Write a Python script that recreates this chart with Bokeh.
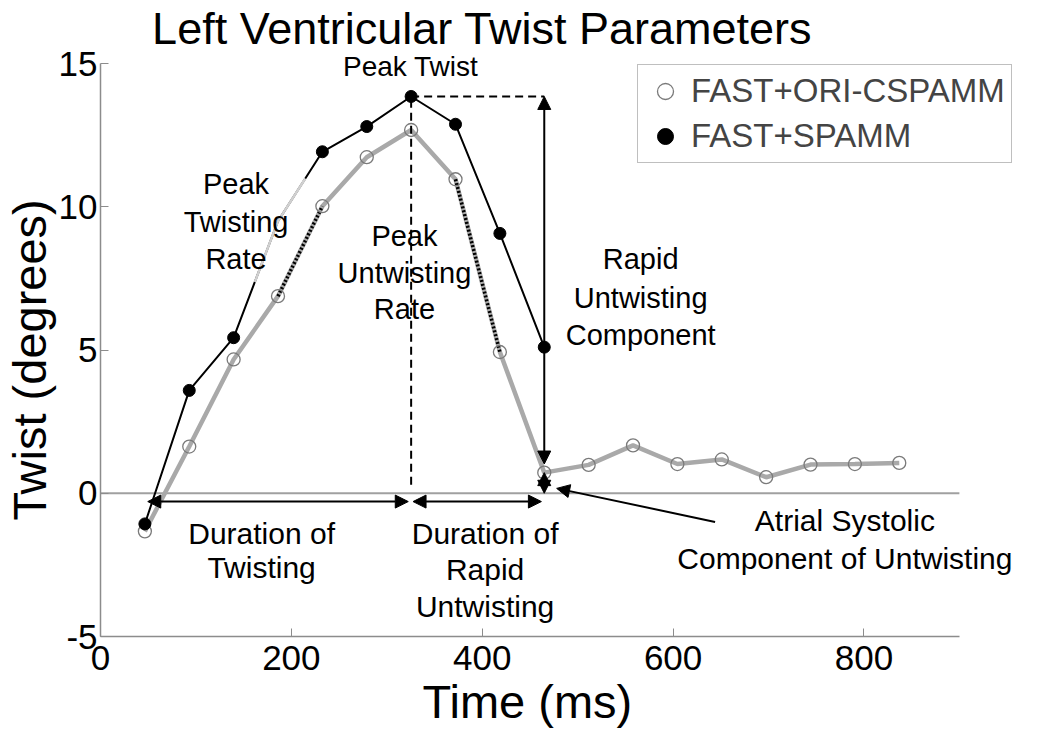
from bokeh.plotting import figure
from bokeh.models import (Range1d, Arrow, NormalHead, Legend, LegendItem, FixedTicker,
                          PrintfTickFormatter, Title)
from bokeh.core.properties import value
from bokeh.embed import file_html
from bokeh.resources import INLINE
import numpy as np

# ---------------- data ----------------
title = "Left Ventricular Twist Parameters"
x_label = "Time (ms)"
y_label = "Twist (degrees)"
series_names = ["FAST+ORI-CSPAMM", "FAST+SPAMM"]

t_spamm = [46.5, 93.0, 139.5, 186.0, 232.5, 279.0, 325.5, 372.0, 418.5, 465.0]
spamm = [-1.07, 3.59, 5.43, 9.50, 11.92, 12.80, 13.85, 12.88, 9.07, 5.10]

t_ori = [46.5, 93.0, 139.5, 186.0, 232.5, 279.0, 325.5, 372.0, 418.5, 465.0,
         511.5, 558.0, 604.5, 651.0, 697.5, 744.0, 790.5, 837.0]
ori = [-1.33, 1.63, 4.67, 6.88, 10.02, 11.73, 12.68, 10.96, 4.93, 0.72,
       0.99, 1.67, 1.02, 1.18, 0.56, 1.00, 1.02, 1.06]

x_ticks = [0, 200, 400, 600, 800]
y_ticks = [-5, 0, 5, 10, 15]
x_bounds = (0, 900)
y_bounds = (-5, 15)

FONT = "Liberation Sans"
GRAY_LINE = "#a9a9a9"
GRAY_EDGE = "#7a7a7a"

# frame spans the whole canvas to the right and top so that texts are not clipped
p = figure(width=1034, height=736, output_backend="svg", toolbar_location=None,
           x_range=Range1d(0, 978.7), y_range=Range1d(-5, 17.2),
           min_border_left=92, min_border_right=0, min_border_top=0, min_border_bottom=100)
p.grid.visible = False
p.outline_line_color = None
p.background_fill_color = "white"
p.border_fill_color = "white"

for ax, ticks, bnds in ((p.xaxis[0], x_ticks, x_bounds), (p.yaxis[0], y_ticks, y_bounds)):
    ax.ticker = FixedTicker(ticks=ticks)
    ax.formatter = PrintfTickFormatter(format="%d")
    ax.bounds = bnds
    ax.major_label_text_font = FONT
    ax.major_label_text_font_size = "35px"
    ax.major_label_text_color = "black"
    ax.axis_line_color = "#8c8c8c"
    ax.axis_line_width = 1.5
    ax.major_tick_line_color = "#8c8c8c"
    ax.major_tick_in = 8
    ax.major_tick_out = 0
    ax.minor_tick_line_color = None
p.xaxis.major_label_standoff = 9
p.yaxis.major_label_standoff = 3

# axis titles, placed so that they sit where the reference has them
p.add_layout(Title(text=x_label, align="left", offset=322, standoff=0,
                   text_font=FONT, text_font_size="47px", text_font_style="normal",
                   text_color="black"), "below")
p.add_layout(Title(text=y_label, align="left", offset=116, standoff=0,
                   text_font=FONT, text_font_size="47px", text_font_style="normal",
                   text_color="black"), "left")

# chart title (drawn inside the widened frame)
p.text(x=[400], y=[16.22], text=[title], text_font=value(FONT), text_font_size=value("45px"),
       text_align="center", text_baseline="alphabetic", text_color="black")

# zero line
p.line(list(x_bounds), [0, 0], line_color="#a0a0a0", line_width=2)

# ORI-CSPAMM gray line
p.line(t_ori, ori, line_color=GRAY_LINE, line_width=4.5)

# dotted peak-rate segments on the gray line
for i in (3, 7):
    p.line(t_ori[i:i + 2], ori[i:i + 2], line_color="black", line_width=3.5, line_dash="2 2")

# SPAMM black line
p.line(t_spamm, spamm, line_color="black", line_width=2)
# light highlight of peak twisting rate on the black line
hl_t = [161.7, t_spamm[3], 214.6]
hl_y = list(np.interp(hl_t, t_spamm, spamm))
p.line(hl_t, hl_y, line_color="#d0d0d0", line_width=2.5)

r_ori = p.scatter(t_ori, ori, marker="circle", size=13, fill_alpha=0,
                  line_color=GRAY_EDGE, line_width=1.3)
vis = [i for i in range(len(t_spamm)) if i != 3]
r_sp = p.scatter([t_spamm[i] for i in vis], [spamm[i] for i in vis], marker="circle",
                 size=12, fill_color="black", line_color="black")

# peak lines
ipk = int(np.argmax(spamm))
p.line([t_spamm[ipk], t_spamm[ipk]], [0.3, spamm[ipk]], line_color="black",
       line_width=2, line_dash="8 5")
p.line([t_spamm[ipk], t_spamm[-1]], [spamm[ipk], spamm[ipk]], line_color="black",
       line_width=2, line_dash="8 5")


def head():
    return NormalHead(size=13, fill_color="black", line_color="black", line_width=1)


# rapid untwisting component
p.add_layout(Arrow(start=head(), end=head(), x_start=t_spamm[-1], y_start=spamm[ipk],
                   x_end=t_spamm[-1], y_end=ori[9] + 0.3, line_width=2))
# atrial systolic component
p.add_layout(Arrow(start=head(), end=head(), x_start=t_spamm[-1], y_start=ori[9],
                   x_end=t_spamm[-1], y_end=0, line_width=2))
# durations
p.add_layout(Arrow(start=head(), end=head(), x_start=t_spamm[0] + 3, y_start=-0.29,
                   x_end=t_spamm[ipk] - 3, y_end=-0.29, line_width=2))
p.add_layout(Arrow(start=head(), end=head(), x_start=t_spamm[ipk] + 2, y_start=-0.29,
                   x_end=t_spamm[-1] - 3, y_end=-0.29, line_width=2))
# pointer to atrial component
p.add_layout(Arrow(end=head(), x_start=644, y_start=-1.0, x_end=478, y_end=0.17,
                   line_width=2))

ann = [
    ("Peak Twist", 325, 14.9, "28px"),
    ("Peak", 142, 10.8, "29px"), ("Twisting", 142, 9.48, "29px"), ("Rate", 142, 8.18, "29px"),
    ("Peak", 318.5, 8.99, "29px"), ("Untwisting", 318.5, 7.69, "29px"), ("Rate", 318.5, 6.43, "29px"),
    ("Rapid", 566, 8.18, "29px"), ("Untwisting", 566, 6.82, "29px"), ("Component", 566, 5.52, "29px"),
    ("Duration of", 168.8, -1.40, "30px"), ("Twisting", 168.8, -2.59, "30px"),
    ("Duration of", 403, -1.40, "30px"), ("Rapid", 403, -2.66, "30px"), ("Untwisting", 403, -3.95, "30px"),
    ("Atrial Systolic", 780, -0.94, "30px"), ("Component of Untwisting", 780, -2.27, "30px"),
]
for txt, x, y, fs in ann:
    p.text(x=[x], y=[y], text=[txt], text_font=value(FONT), text_font_size=value(fs),
           text_align="center", text_baseline="middle", text_color="black")

legend = Legend(items=[LegendItem(label=series_names[0], renderers=[r_ori]),
                       LegendItem(label=series_names[1], renderers=[r_sp])],
                location=(537, 473), margin=0, padding=6, spacing=5,
                glyph_width=42, glyph_height=40, label_height=40, label_standoff=5,
                label_text_font=FONT, label_text_font_size="33px",
                border_line_color="#808080", border_line_width=1.5,
                background_fill_color="white", background_fill_alpha=1)
p.add_layout(legend)

open("out.html", "w").write(file_html(p, INLINE))
